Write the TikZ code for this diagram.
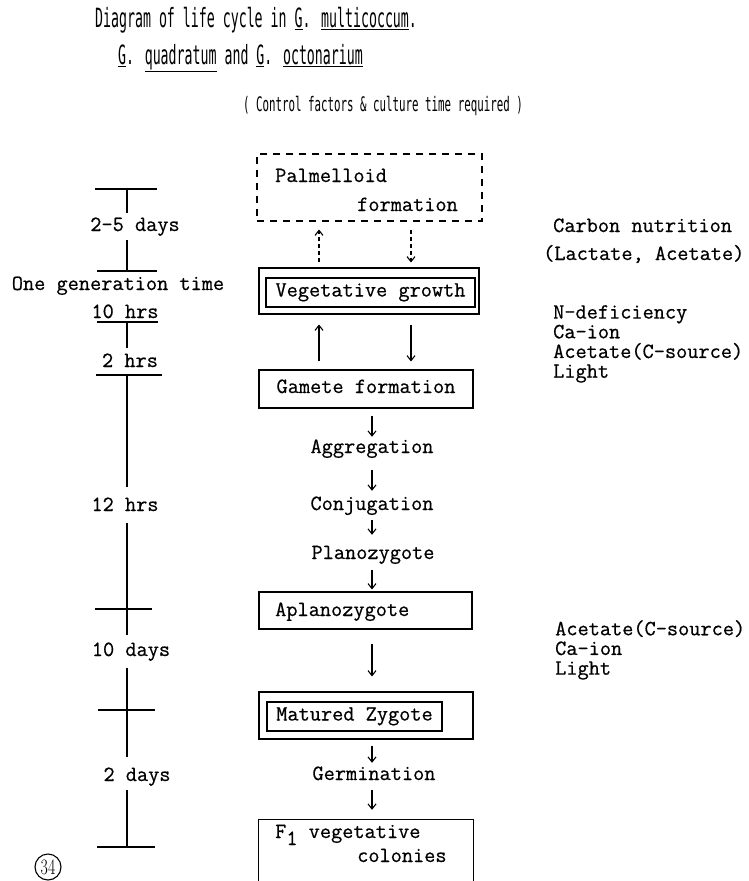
\documentclass[tikz,border=0pt]{standalone}
\usepackage{fontspec}
\usepackage{graphicx}
\newfontfamily\ttlfont[FakeStretch=0.5]{DejaVu Sans Mono}
\newfontfamily\ctlfont[FakeStretch=0.54]{DejaVu Sans Mono}
\newfontfamily\bodyf[FakeBold=0.6]{Latin Modern Mono}
\newcommand\bodyfnt{\bodyf\fontsize{21.7}{19.7}\selectfont}
\usetikzlibrary{arrows.meta}
\begin{document}
\begin{tikzpicture}[x=1pt,y=-1pt,
  lw/.style={line width=1.1pt},
  txt/.style={font=\bodyfnt, inner sep=0pt, text height=11pt, text depth=3pt},
  mtxt/.style={font=\bodyfnt, inner sep=0pt, align=left, anchor=north west},
  boxn/.style={draw, line width=1.1pt, inner sep=0pt},
  btxt/.style={boxn, font=\bodyfnt, text height=11pt, text depth=3pt},
  arr/.style={line width=1.1pt, -{Straight Barb[length=5pt,width=8pt]}},
  darr/.style={arr, dash pattern=on 4pt off 3pt},
  tick/.style={line width=1.3pt},
  ttl/.style={anchor=west, inner sep=0pt, font=\ttlfont\fontsize{26.5}{28}\selectfont},
  ctl/.style={anchor=west, inner sep=0pt, font=\ctlfont\fontsize{20}{22}\selectfont}
]
\useasboundingbox (0,0) rectangle (749,881);

% titles
\node[ttl] (t1) at (95,20) {Diagram of life cycle in \underline{G}. \underline{multicoccum}.};
\node[ttl] (t2) at (118,58) {\underline{G}. \underline{quadratum} and \underline{G}. \underline{octonarium}};
\node[ctl] (ctltxt) at (243,106) {( Control factors \& culture time required )};

% centre column
\node[boxn, dash pattern=on 7pt off 6pt, minimum width=225pt, minimum height=67pt] (palm) at (369.5,187.5) {};
\node[txt, anchor=west] (palmA) at (275,178) {Palmelloid};
\node[txt, anchor=west] (palmB) at (357,207) {formation};

\node[boxn, minimum width=220pt, minimum height=46pt] (vegO) at (369,291) {};
\node[btxt, minimum width=209pt, minimum height=29pt] (veg) at (370.5,292.5) {Vegetative growth};

\node[btxt, minimum width=214pt, minimum height=38pt] (gam) at (366,389) {Gamete formation};
\node[txt] (aggr) at (372,449) {Aggregation};
\node[txt] (conj) at (372,506) {Conjugation};
\node[txt] (plan) at (373,555) {Planozygote};

\node[boxn, minimum width=213pt, minimum height=37pt] (aplan) at (365.5,610.5) {};
\node[txt, anchor=west] (aplanT) at (275,612) {Aplanozygote};

\node[boxn, minimum width=214pt, minimum height=47pt] (matO) at (366,715.5) {};
\node[btxt, minimum width=175pt, minimum height=29pt] (mat) at (354.5,716.5) {Matured Zygote};

\node[txt] (germ) at (374,776) {Germination};

\node[inner sep=0pt, minimum width=214pt, minimum height=61pt] (f1) at (366,850.5) {};
\draw[lw] (f1.south west) -- (f1.north west) -- (f1.north east) -- (f1.south east);
\node[txt, anchor=west] (f1A) at (275,834) {F\raisebox{-7pt}{1} vegetative};
\node[txt, anchor=west] (f1B) at (357,858) {colonies};

% arrows
\coordinate (xL) at (319,0);
\coordinate (xR) at (411,0);
\coordinate (xM) at (372,0);
\draw[darr, shorten <=5pt, shorten >=8pt] (vegO.north -| xL) -- (palm.south -| xL);
\draw[darr, shorten <=8pt, shorten >=5pt] (palm.south -| xR) -- (vegO.north -| xR);
\draw[arr, shorten <=8pt, shorten >=10pt] (gam.north -| xL) -- (vegO.south -| xL);
\draw[arr, shorten <=10pt, shorten >=8pt] (vegO.south -| xR) -- (gam.north -| xR);
\draw[arr, shorten <=7pt, shorten >=5pt] (gam.south -| xM) -- (aggr.north -| xM);
\draw[arr, shorten <=14pt, shorten >=8pt] (aggr.south -| xM) -- (conj.north -| xM);
\draw[arr, shorten <=7pt, shorten >=13pt] (conj.south -| xM) -- (plan.north -| xM);
\draw[arr, shorten <=8pt, shorten >=2pt] (plan.south -| xM) -- (aplan.north -| xM);
\draw[arr, shorten <=14pt, shorten >=15pt] (aplan.south -| xM) -- (matO.north -| xM);
\draw[arr, shorten <=6pt, shorten >=6pt] (matO.south -| xM) -- (germ.north -| xM);
\draw[arr, shorten <=7pt, shorten >=10pt] (germ.south -| xM) -- (f1.north -| xM);

% time scale
\draw[tick] (95,189) -- (157,189);
\draw[tick] (127,189) -- (127,213);
\node[txt] (d25) at (135,227) {2-5 days};
\draw[tick] (127,240) -- (127,271);
\draw[tick] (97,271) -- (157,271);
\node[txt] (gen) at (118,286) {One generation time};
\node[txt] (h10) at (125,314) {10 hrs};
\draw[tick] (97,322) -- (158,322);
\draw[tick] (127,322) -- (127,348);
\node[txt] (h2) at (130,363) {2 hrs};
\draw[tick] (96,375) -- (162,375);
\draw[tick] (127,375) -- (127,487);
\node[txt] (h12) at (125,507) {12 hrs};
\draw[tick] (127,523) -- (127,635);
\draw[tick] (95,609) -- (152,609);
\node[txt] (d10) at (131,652) {10 days};
\draw[tick] (127,668) -- (127,757);
\draw[tick] (98,710) -- (155,710);
\node[txt] (d2) at (137,777) {2 days};
\draw[tick] (127,790) -- (127,847);
\draw[tick] (97,847) -- (155,847);

\node[circle, draw, line width=1.1pt, minimum size=26pt, inner sep=0pt, font=\fontsize{22}{22}\selectfont] (pg) at (48,867) {\scalebox{0.72}[1]{34}};

% control factors
\node[txt, anchor=west] (cn) at (553,228) {Carbon nutrition};
\node[txt, anchor=west] (la) at (543,256) {(Lactate, Acetate)};
\node[mtxt] (grp1) at (553,305) {N-deficiency\\Ca-ion\\Acetate(C-source)\\Light};
\node[mtxt] (grp2) at (555,620) {Acetate(C-source)\\Ca-ion\\Light};
\end{tikzpicture}
\end{document}
